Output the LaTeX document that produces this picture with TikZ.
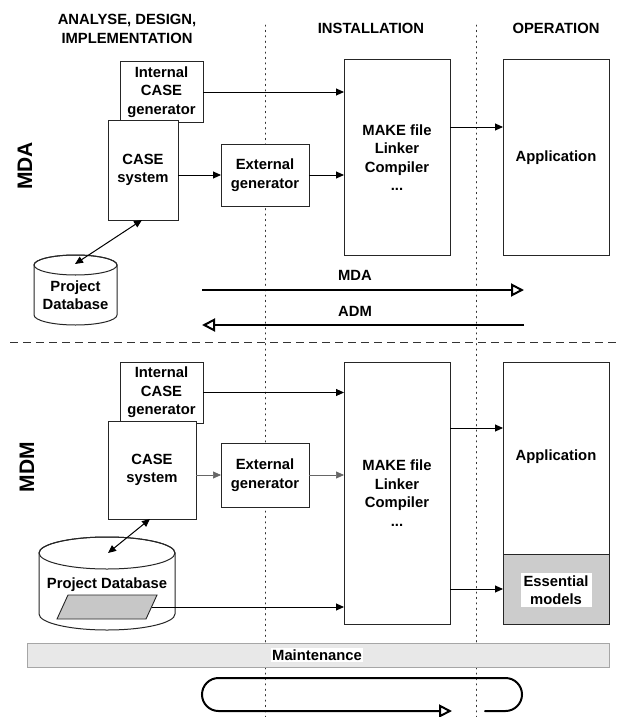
\documentclass[tikz,border=0pt]{standalone}
\usepackage{fontspec}
\setmainfont{Liberation Sans}
\usetikzlibrary{arrows.meta,calc}

\tikzset{
  lbl/.style={font=\bfseries\fontsize{14.8}{18.5}\selectfont, align=center, inner sep=0pt},
  phase/.style={lbl},
  box/.style={draw=black!85, line width=1pt, fill=white, outer sep=0pt, lbl},
  conn/.style={draw=black, line width=0.9pt, -{Triangle[length=8pt,width=7pt]}},
  both/.style={draw=black, line width=1pt, {Triangle[length=8pt,width=7pt]}-{Triangle[length=8pt,width=7pt]}},
  flow/.style={draw=black, line width=2pt, -{Triangle[open,length=13pt,width=13pt,line width=2pt,fill=white]}},
  sep/.style={draw=black!80, line width=0.9pt, dash pattern=on 1.2pt off 4.2pt, line cap=round},
  side/.style={font=\bfseries\fontsize{21}{24}\selectfont, rotate=90, inner sep=0pt},
}

\begin{document}
\begin{tikzpicture}[x=1pt, y=-1pt]
\useasboundingbox (0,0) rectangle (618,717);
\fill[white] (0,0) rectangle (618,717);

% phase separators
\draw[sep] (265,25) -- (265,717);
\draw[sep] (476,25) -- (476,717);
\draw[black!80, line width=0.9pt, dash pattern=on 8pt off 5pt] (10,342) -- (618,342);

% phase headings
\node[phase] (hana) at (127,29) {ANALYSE, DESIGN,\\IMPLEMENTATION};
\node[phase] (hins) at (371,28) {INSTALLATION};
\node[phase] (hop)  at (556,28) {OPERATION};

\node[side] (tmda) at (25,166) {MDA};
\node[side] (tmdm) at (27,467) {MDM};

% ---------------- MDA ----------------
\node[box, minimum width=83pt, minimum height=60pt] (igA) at (161.5,92) {Internal\\CASE\\generator};
\node[box, minimum width=70pt, minimum height=100pt] (csA) at (143,170) {CASE\\system};
\node[box, minimum width=88pt, minimum height=62pt] (egA) at (265,175) {External\\generator};
\node[box, minimum width=106pt, minimum height=195pt] (mkA) at (397,157.5) {MAKE file\\Linker\\Compiler\\...};
\node[box, minimum width=106pt, minimum height=195pt] (apA) at (556,157.5) {Application};

% project database cylinder
\draw[black!85, line width=1pt, fill=white]
  (34,265) -- (34,315) arc[start angle=180, end angle=360, x radius=41.5pt, y radius=10pt]
  -- (117,265) arc[start angle=0, end angle=180, x radius=41.5pt, y radius=10pt];
\draw[black!85, line width=1pt] (75.5,265) ellipse[x radius=41.5pt, y radius=10pt];
\node[lbl] (dbA) at (75.5,295) {Project\\Database};
\coordinate (dbAtop) at (75,264);

\draw[conn] (igA.east) -- (igA.east -| mkA.west);
\draw[conn] (egA.west -| csA.east) -- (egA.west);
\draw[conn] (egA.east) -- (egA.east -| mkA.west);
\draw[conn] ([yshift=30.5pt]mkA.east) -- ([yshift=30.5pt]apA.west);
\draw[both] ([xshift=-1pt]csA.south) -- (dbAtop);

% MDA / ADM directions
\coordinate (fl) at (202,290);
\coordinate (fr) at (524,290);
\coordinate (bl) at (202,325);
\coordinate (br) at (524,325);
\draw[flow] (fl) -- (fr);
\draw[flow] (br) -- (bl);
\node[lbl] (lmda) at (355,275) {MDA};
\node[lbl] (ladm) at (355,311) {ADM};

% ---------------- MDM ----------------
\node[box, minimum width=83pt, minimum height=61pt] (igB) at (161.5,392.5) {Internal\\CASE\\generator};
\node[box, minimum width=88pt, minimum height=98pt] (csB) at (152,470) {CASE\\system};
\node[box, minimum width=88pt, minimum height=64pt] (egB) at (265,475) {External\\generator};
\node[box, minimum width=106pt, minimum height=262pt] (mkB) at (397,493) {MAKE file\\Linker\\Compiler\\...};
% application with its essential models part
\fill[black!20] (503,554) rectangle (609,624);
\node[box, fill=none, minimum width=106pt, minimum height=262pt] (apB) at (556,493) {};
\draw[black!85, line width=1pt] (apB.west |- 0,554) -- (apB.east |- 0,554);
\node[lbl] (appB) at (556,457) {Application};
\node[lbl, fill=white, inner xsep=3pt, inner ysep=2.5pt] (essB) at (556,590) {Essential\\models};

% project database cylinder with its model store
\draw[black!85, line width=1pt, fill=white]
  (39,553) -- (39,614) arc[start angle=180, end angle=360, x radius=68pt, y radius=16pt]
  -- (175,553) arc[start angle=0, end angle=180, x radius=68pt, y radius=16pt];
\draw[black!85, line width=1pt] (107,553) ellipse[x radius=68pt, y radius=16pt];
\node[lbl] (dbB) at (107,585) {Project Database};
\draw[black!85, line width=0.9pt, fill=black!22] (68,595) -- (157,595) -- (146,619) -- (57,619) -- cycle;
\coordinate (store) at (151.5,607);
\coordinate (dbBtop) at (108,553);

\draw[conn] (igB.east) -- (igB.east -| mkB.west);
\draw[conn, draw=black!60, line width=0.7pt] (egB.west -| csB.east) -- (egB.west);
\draw[conn, draw=black!60, line width=0.7pt] (egB.east) -- (egB.east -| mkB.west);
\draw[conn] (mkB.east |- 0,428) -- (apB.west |- 0,428);
\draw[conn] (mkB.east |- 0,589) -- (apB.west |- 0,589);
\draw[conn] (store) -- (store -| mkB.west);
\draw[both] ([xshift=-2pt]csB.south) -- (dbBtop);

% maintenance band
\node[draw=black!35, line width=0.6pt, fill=black!9, minimum width=582pt, minimum height=24pt, inner sep=0pt] (band) at (318,655) {};
\node[lbl, fill=white, inner sep=1.5pt] (lmaint) at (317,655) {Maintenance};

% maintenance cycle
\coordinate (cs) at (485,711);
\coordinate (ce) at (452,711);
\draw[flow, line cap=round]
  (cs) -- (505.5,711) arc[start angle=-90, end angle=90, radius=16.5pt]
  -- (218.5,678) arc[start angle=90, end angle=270, radius=16.5pt] -- (ce);
\end{tikzpicture}
\end{document}
